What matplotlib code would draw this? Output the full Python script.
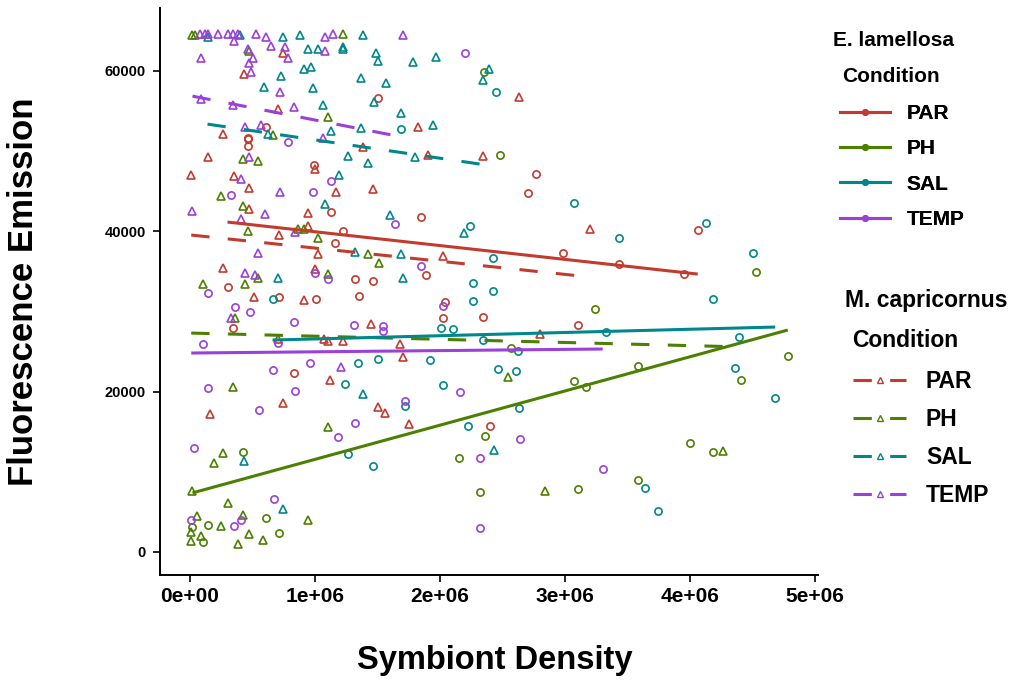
import matplotlib
matplotlib.use("Agg")
import matplotlib.pyplot as plt
from matplotlib.lines import Line2D

# conditions and colours
conditions = ["PAR", "PH", "SAL", "TEMP"]
cond_colors = {"PAR": "#C23B2E", "PH": "#4C8000", "SAL": "#00878C", "TEMP": "#9B40D8"}

# E. lamellosa (circles); x in 1e6, y in 1e3
e_par_x = [0.61, 0.46, 0.46, 0.46, 0.99, 0.30, 0.71, 1.01, 0.34, 0.83, 1.50, 1.13, 1.85, 1.22, 1.16,
           1.89, 1.32, 1.46, 1.35, 2.04, 2.34, 2.02, 2.40, 2.77, 2.70, 2.98, 3.43, 3.95, 4.06, 3.10]
e_par_y = [53.0, 51.7, 51.5, 50.7, 48.3, 33.0, 31.8, 31.5, 27.9, 22.3, 56.6, 42.4, 41.8, 40.0, 38.5,
           34.5, 34.0, 33.8, 31.9, 31.2, 29.3, 29.2, 15.7, 47.1, 44.8, 37.3, 35.9, 34.7, 40.1, 28.3]

e_ph_x = [0.42, 0.61, 0.02, 0.14, 0.10, 0.71, 2.35, 2.48, 2.57, 2.36, 2.15, 2.32, 3.24, 3.58, 4.41,
          4.78, 3.07, 3.17, 4.00, 4.18, 3.58, 3.10, 4.53]
e_ph_y = [12.5, 4.2, 3.1, 3.4, 1.2, 2.4, 59.9, 49.5, 25.4, 14.5, 11.7, 7.5, 30.3, 23.2, 21.4,
          24.4, 21.3, 20.6, 13.6, 12.5, 9.0, 7.9, 34.9]

e_sal_x = [0.66, 1.69, 2.45, 2.24, 2.42, 2.26, 2.42, 2.26, 2.01, 2.10, 2.34, 1.34, 1.50, 1.92, 2.46,
           2.61, 1.24, 2.02, 1.72, 2.22, 1.26, 1.46, 2.63, 3.07, 3.43, 4.13, 4.50, 4.18, 3.33, 4.39,
           2.62, 4.36, 4.68, 3.64, 3.74]
e_sal_y = [31.5, 52.7, 57.4, 40.6, 36.7, 33.5, 32.5, 31.3, 27.9, 27.8, 26.4, 23.6, 24.1, 23.9, 22.8,
           22.6, 20.9, 20.8, 18.2, 15.7, 12.2, 10.7, 18.0, 43.5, 39.2, 41.0, 37.3, 31.5, 27.4, 26.8,
           25.1, 22.9, 19.2, 8.0, 5.1]

e_temp_x = [0.78, 0.98, 0.33, 1.00, 0.14, 0.36, 0.48, 0.83, 0.70, 0.10, 0.66, 0.96, 0.14, 0.84, 0.55,
            0.03, 0.67, 0.01, 0.41, 0.35, 2.20, 1.13, 1.64, 1.85, 2.02, 1.31, 1.54, 1.54, 2.16, 1.72,
            1.32, 1.18, 2.32, 2.32, 2.64, 3.30, 1.10]
e_temp_y = [51.2, 44.9, 44.5, 34.8, 32.3, 30.5, 29.9, 28.7, 26.1, 25.9, 22.7, 23.6, 20.4, 20.1, 17.7,
            13.0, 6.6, 4.0, 4.0, 3.2, 62.2, 46.3, 40.9, 35.7, 30.7, 28.3, 28.2, 27.6, 20.0, 18.8,
            16.1, 14.3, 11.7, 3.0, 14.1, 10.3, 34.0]

# M. capricornus (triangles)
m_par_x = [0.74, 0.43, 0.70, 0.26, 0.14, 1.00, 0.01, 0.35, 0.47, 0.94, 0.47, 0.71, 0.94, 1.02, 0.26,
           1.00, 0.51, 0.91, 0.70, 1.07, 0.74, 0.16, 2.63, 1.82, 1.38, 1.90, 2.34, 1.17, 1.46, 2.02,
           1.45, 1.10, 1.22, 1.68, 1.70, 1.12, 1.50, 1.56, 1.75, 3.20, 2.80]
m_par_y = [62.3, 59.6, 55.2, 52.1, 49.3, 47.8, 47.0, 46.9, 45.4, 42.3, 42.8, 39.5, 40.6, 37.2, 35.4,
           35.3, 31.8, 31.4, 26.6, 26.6, 18.6, 17.2, 56.7, 53.0, 50.5, 49.5, 49.4, 44.9, 45.3, 36.9,
           28.4, 26.3, 26.3, 25.9, 24.3, 21.4, 18.1, 17.3, 16.0, 40.3, 27.2]

m_ph_x = [0.02, 0.04, 0.47, 0.66, 0.42, 0.54, 0.25, 0.42, 0.46, 0.86, 0.91, 1.02, 0.54, 0.10, 0.44,
          0.36, 0.34, 0.26, 0.19, 0.02, 0.30, 0.06, 0.42, 0.94, 0.01, 0.25, 0.09, 0.01, 0.47, 0.38,
          0.58, 1.22, 1.10, 1.42, 1.51, 1.10, 2.54, 1.10, 2.84, 4.26]
m_ph_y = [64.5, 64.5, 62.5, 52.0, 49.0, 48.8, 44.4, 43.1, 40.0, 40.3, 40.3, 39.2, 34.2, 33.4, 33.4,
          29.2, 20.6, 12.3, 11.1, 7.6, 6.1, 4.5, 4.6, 4.0, 2.5, 3.2, 2.0, 1.4, 2.2, 1.0,
          1.5, 64.6, 54.2, 37.2, 36.0, 34.7, 21.8, 15.6, 7.6, 12.6]

m_sal_x = [0.14, 0.40, 0.74, 0.88, 0.94, 1.02, 0.59, 0.73, 0.91, 0.97, 0.98, 1.06, 0.62, 0.70, 1.08,
           1.38, 1.22, 1.22, 1.49, 1.50, 1.78, 1.97, 2.39, 2.34, 1.37, 1.57, 1.47, 1.69, 1.13, 1.37,
           1.94, 1.26, 1.42, 1.80, 1.19, 1.60, 2.19, 1.32, 1.69, 1.70, 1.38, 2.43, 0.43, 0.74]
m_sal_y = [64.2, 64.5, 64.2, 64.5, 62.7, 62.7, 58.0, 59.4, 60.3, 60.5, 57.9, 55.7, 52.2, 34.2, 43.4,
           64.5, 63.0, 62.7, 62.2, 61.3, 61.1, 61.8, 60.3, 58.9, 59.1, 58.5, 56.1, 54.7, 52.5, 52.9,
           53.2, 49.4, 48.5, 49.3, 47.0, 42.0, 39.8, 37.4, 37.2, 34.2, 19.7, 12.7, 11.3, 5.4]

m_temp_x = [0.08, 0.12, 0.14, 0.22, 0.30, 0.34, 0.38, 0.35, 0.53, 0.61, 0.65, 0.76, 0.78, 0.46, 0.09,
            0.47, 0.50, 0.49, 0.72, 0.09, 0.34, 0.83, 0.44, 0.57, 1.06, 0.47, 0.41, 0.72, 0.60, 0.02,
            0.41, 0.84, 0.54, 0.44, 0.52, 0.33, 1.08, 1.14, 1.70, 1.08, 1.21]
m_temp_y = [64.6, 64.6, 64.6, 64.6, 64.6, 64.6, 64.6, 63.7, 64.6, 64.3, 63.1, 63.0, 61.6, 62.7, 61.6,
            61.0, 61.6, 59.9, 57.4, 56.5, 55.7, 55.5, 53.0, 53.2, 51.7, 49.3, 46.5, 44.9, 42.1, 42.5,
            41.5, 39.9, 37.3, 34.8, 34.5, 29.2, 64.3, 64.6, 64.5, 62.5, 23.1]

# fitted lines (endpoints), order PAR, PH, SAL, TEMP
e_fit_x0 = [0.30, 0.02, 0.66, 0.01]
e_fit_x1 = [4.06, 4.78, 4.68, 3.30]
e_fit_y0 = [41.15, 7.36, 26.43, 24.81]
e_fit_y1 = [34.66, 27.68, 28.05, 25.31]
m_fit_x0 = [0.01, 0.01, 0.14, 0.02]
m_fit_x1 = [3.20, 4.26, 2.43, 1.70]
m_fit_y0 = [39.53, 27.30, 53.37, 56.86]
m_fit_y1 = [34.29, 25.63, 48.13, 51.75]

e_points = {"PAR": (e_par_x, e_par_y), "PH": (e_ph_x, e_ph_y),
            "SAL": (e_sal_x, e_sal_y), "TEMP": (e_temp_x, e_temp_y)}
m_points = {"PAR": (m_par_x, m_par_y), "PH": (m_ph_x, m_ph_y),
            "SAL": (m_sal_x, m_sal_y), "TEMP": (m_temp_x, m_temp_y)}

DASH = (0, (6, 6))


def main():
    plt.rcParams["font.family"] = ["Liberation Sans", "DejaVu Sans"]
    plt.rcParams["font.weight"] = "bold"

    fig = plt.figure(figsize=(10.19, 6.86), dpi=100)
    ax = fig.add_axes([0.157, 0.162, 0.646, 0.826])

    # points
    for c in conditions:
        x, y = e_points[c]
        ax.plot([v * 1e6 for v in x], [v * 1e3 for v in y], linestyle="none", marker="o",
                ms=5.2, mfc="none", mec=cond_colors[c], mew=1.2, zorder=2)
        x, y = m_points[c]
        ax.plot([v * 1e6 for v in x], [v * 1e3 for v in y], linestyle="none", marker="^",
                ms=6.2, mfc="none", mec=cond_colors[c], mew=1.2, zorder=2)

    # regression lines
    for i, c in enumerate(conditions):
        ax.plot([e_fit_x0[i] * 1e6, e_fit_x1[i] * 1e6], [e_fit_y0[i] * 1e3, e_fit_y1[i] * 1e3],
                color=cond_colors[c], lw=2.2, solid_capstyle="butt", zorder=3)
        ax.plot([m_fit_x0[i] * 1e6, m_fit_x1[i] * 1e6], [m_fit_y0[i] * 1e3, m_fit_y1[i] * 1e3],
                color=cond_colors[c], lw=2.2, linestyle=DASH, dash_capstyle="butt", zorder=3)

    ax.set_xlim(-0.24e6, 5.024e6)
    ax.set_ylim(-2870, 67830)
    ax.set_xticks([0, 1e6, 2e6, 3e6, 4e6, 5e6])
    ax.set_xticklabels([f"{v:.0e}" for v in [0, 1e6, 2e6, 3e6, 4e6, 5e6]])
    ax.set_yticks([0, 20000, 40000, 60000])
    ax.set_yticklabels(["0", "20000", "40000", "60000"])

    for s in ["top", "right"]:
        ax.spines[s].set_visible(False)
    for s in ["left", "bottom"]:
        ax.spines[s].set_linewidth(1.4)
    ax.tick_params(axis="x", length=5, width=1.2, labelsize=15, pad=4)
    ax.tick_params(axis="y", length=5, width=1.2, labelsize=10.5, pad=5)

    ax.set_xlabel("Symbiont Density", fontsize=23.5, fontweight="bold")
    ax.set_ylabel("Fluorescence Emission", fontsize=25, fontweight="bold")
    ax.xaxis.set_label_coords(0.509, -0.123)
    ax.yaxis.set_label_coords(-0.182, 0.5)

    # legends
    e_handles = [Line2D([], [], color=cond_colors[c], lw=2.2, marker="o", ms=4) for c in conditions]
    m_handles = [Line2D([], [], color=cond_colors[c], lw=2.2, linestyle=DASH, marker="^", ms=5,
                        mfc="none", mew=1.0) for c in conditions]

    fig.text(833 / 1019, 1 - 40 / 686, "E. lamellosa", fontsize=15, fontweight="bold", va="center")
    fig.text(842 / 1019, 1 - 77 / 686, "Condition", fontsize=15, fontweight="bold", va="center")
    leg1 = fig.legend(e_handles, conditions, loc="upper left", bbox_to_anchor=(836 / 1019, 1 - 100 / 686),
                      frameon=False, fontsize=15, handlelength=2.4, handletextpad=0.8,
                      labelspacing=0.78, borderaxespad=0, borderpad=0.2)
    fig.text(845 / 1019, 1 - 300 / 686, "M. capricornus", fontsize=16.5, fontweight="bold", va="center")
    fig.text(852 / 1019, 1 - 340 / 686, "Condition", fontsize=16.5, fontweight="bold", va="center")
    fig.legend(m_handles, conditions, loc="upper left", bbox_to_anchor=(848 / 1019, 1 - 365 / 686),
               frameon=False, fontsize=16.5, handlelength=2.35, handletextpad=0.85,
               labelspacing=0.66, borderaxespad=0, borderpad=0.2)
    fig.add_artist(leg1)

    fig.savefig("out.png", dpi=100)


if __name__ == "__main__":
    main()
